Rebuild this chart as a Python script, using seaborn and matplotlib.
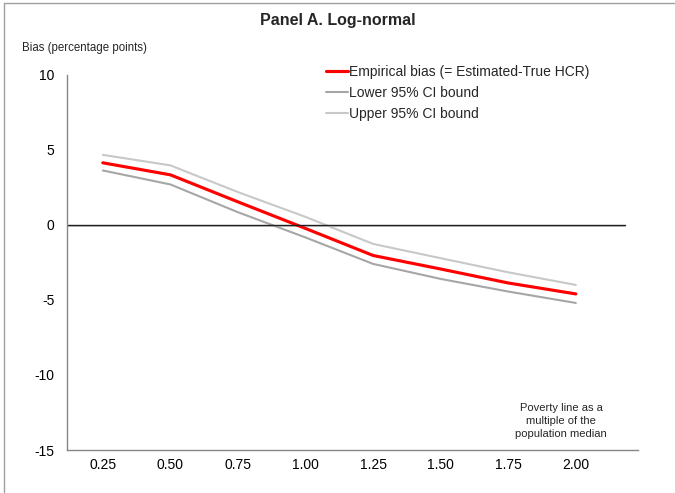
import matplotlib
matplotlib.use("Agg")
import matplotlib.pyplot as plt
from matplotlib.lines import Line2D
import seaborn as sns
import pandas as pd

# Poverty line as a multiple of the population median
poverty_line = [0.25, 0.50, 0.75, 1.00, 1.25, 1.50, 1.75, 2.00]
# Bias in percentage points
empirical_bias = [4.12, 3.32, 1.52, -0.25, -2.05, -2.95, -3.88, -4.61]
lower_ci = [3.61, 2.68, 0.83, -0.85, -2.61, -3.61, -4.45, -5.21]
upper_ci = [4.65, 3.95, 2.17, 0.52, -1.28, -2.23, -3.17, -4.01]

series_names = ["Empirical bias (= Estimated-True HCR)",
                "Lower 95% CI bound",
                "Upper 95% CI bound"]
y_ticks = [10, 5, 0, -5, -10, -15]

sns.set_theme(style="white")
plt.rcParams["font.family"] = ["Liberation Sans", "DejaVu Sans"]

df = pd.DataFrame({
    "x": poverty_line * 3,
    "y": empirical_bias + lower_ci + upper_ci,
    "series": [series_names[0]] * 8 + [series_names[1]] * 8 + [series_names[2]] * 8,
})

palette = {series_names[0]: "#FF0000",
           series_names[1]: "#A6A6A6",
           series_names[2]: "#C8C8C8"}
widths = {series_names[0]: 2.25, series_names[1]: 1.5, series_names[2]: 1.5}

W, H = 675, 493
fig = plt.figure(figsize=(W / 100, H / 100), dpi=100)
ax_top, ax_bottom = 74.5, 450.0
ax = fig.add_axes([67 / W, 1 - ax_bottom / H, (638 - 67) / W, (ax_bottom - ax_top) / H])

# draw the CI bounds first so the bias line sits on top
for name in [series_names[2], series_names[1], series_names[0]]:
    sns.lineplot(data=df[df["series"] == name], x="x", y="y", ax=ax,
                 color=palette[name], linewidth=widths[name],
                 legend=False, solid_joinstyle="round")

ax.set_xlim(0.1175, 2.23)
ax.set_ylim(-15, 10)
ax.set_xticks(poverty_line)
ax.set_xticklabels([f"{v:.2f}" for v in poverty_line])
ax.set_yticks(y_ticks)
ax.set_yticklabels([str(v) for v in y_ticks])
ax.tick_params(axis="both", length=0, labelsize=10, colors="#000000")
ax.tick_params(axis="x", pad=6)
ax.tick_params(axis="y", pad=9)
ax.set_xlabel("")
ax.set_ylabel("")

for side in ["top", "right"]:
    ax.spines[side].set_visible(False)
for side in ["left", "bottom"]:
    ax.spines[side].set_color("#868686")
    ax.spines[side].set_linewidth(1.0)

# zero reference line with a faint shadow
zero_end = (625 - 67) / (638 - 67)
ax.axhline(-0.07, xmin=0, xmax=zero_end, color="#C0C0C0", linewidth=1.2, zorder=1)
ax.axhline(0, xmin=0, xmax=zero_end, color="#202020", linewidth=1.0, zorder=2)

handles = [Line2D([], [], color=palette[n], linewidth=widths[n]) for n in series_names]
leg = fig.legend(handles, series_names, loc="upper left",
                 bbox_to_anchor=(326 / W, 1 - 65 / H), bbox_transform=fig.transFigure,
                 frameon=False, borderpad=0, borderaxespad=0,
                 handlelength=1.55, handletextpad=0.1, labelspacing=0.5,
                 prop={"size": 10})

fig.text(338 / W, 1 - 20 / H, "Panel A. Log-normal", ha="center", va="center",
         fontsize=11.5, fontweight="bold")
fig.text(22 / W, 1 - 48 / H, "Bias (percentage points)", ha="left", va="center",
         fontsize=8.3)
fig.text(561 / W, 1 - 421 / H, "Poverty line as a\nmultiple of the\npopulation median",
         ha="center", va="center", fontsize=8, linespacing=1.35)

# outer frame edges
fig.add_artist(Line2D([4 / W, 4 / W], [0, 1 - 3 / H], color="#A0A0A0", linewidth=1.0))
fig.add_artist(Line2D([4 / W, 1], [1 - 3 / H, 1 - 3 / H], color="#A0A0A0", linewidth=1.0))

fig.savefig("out.png", dpi=100)
